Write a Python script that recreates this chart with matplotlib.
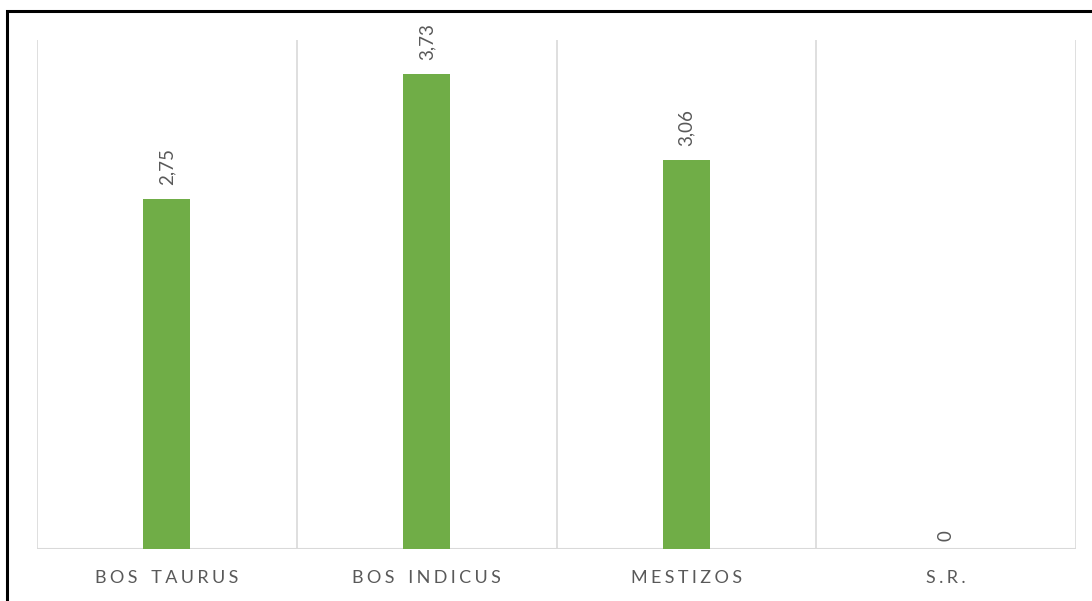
import matplotlib
matplotlib.use('Agg')
import matplotlib.pyplot as plt
from matplotlib.patches import Rectangle

categorias = ['BOS TAURUS', 'BOS INDICUS', 'MESTIZOS', 'S.R.']
valores = [2.75, 3.73, 3.06, 0]
etiquetas = ['2,75', '3,73', '3,06', '0']

plt.rcParams['font.family'] = ['Lato', 'DejaVu Sans']

fig = plt.figure(figsize=(10.92, 6.01), dpi=100)
ax = fig.add_axes([37 / 1092, 52 / 601, (1076 - 37) / 1092, (549 - 40) / 601])

x = list(range(len(categorias)))
bars = ax.bar(x, valores, width=0.18, color='#70AD47', zorder=3)

for b, lab in zip(bars, etiquetas):
    off = 10 if b.get_height() > 0 else 6
    ax.annotate(lab, (b.get_x() + b.get_width() / 2, b.get_height()),
                xytext=(0, off), textcoords='offset points', rotation=90,
                ha='center', va='bottom', fontsize=13.5, color='#595959')

ax.set_xlim(-0.5, len(categorias) - 0.5)
ax.set_ylim(0, 4)

# lineas verticales entre categorias
for xv in [i - 0.5 for i in range(len(categorias) + 1)]:
    ax.axvline(xv, color='#D9D9D9', linewidth=1.2, zorder=1)

for s in ax.spines.values():
    s.set_visible(False)
ax.axhline(0, color='#D9D9D9', linewidth=1.5, zorder=2)

ax.set_yticks([])
ax.set_xticks(x)
espaciado = ['\u2009\u200a'.join(list(c)).replace('\u2009\u200a \u2009\u200a', '\u2009  \u2009') for c in categorias]
ax.set_xticklabels(espaciado, fontsize=13, color='#595959')
ax.tick_params(axis='x', length=0, pad=15)

fig.patches.append(Rectangle((7 / 1092, -0.05), 1.1, 1 - 11 / 601 + 0.05,
                             transform=fig.transFigure, fill=False,
                             edgecolor='black', linewidth=2.2, zorder=10))

plt.savefig('out.png', dpi=100)
plt.close()
